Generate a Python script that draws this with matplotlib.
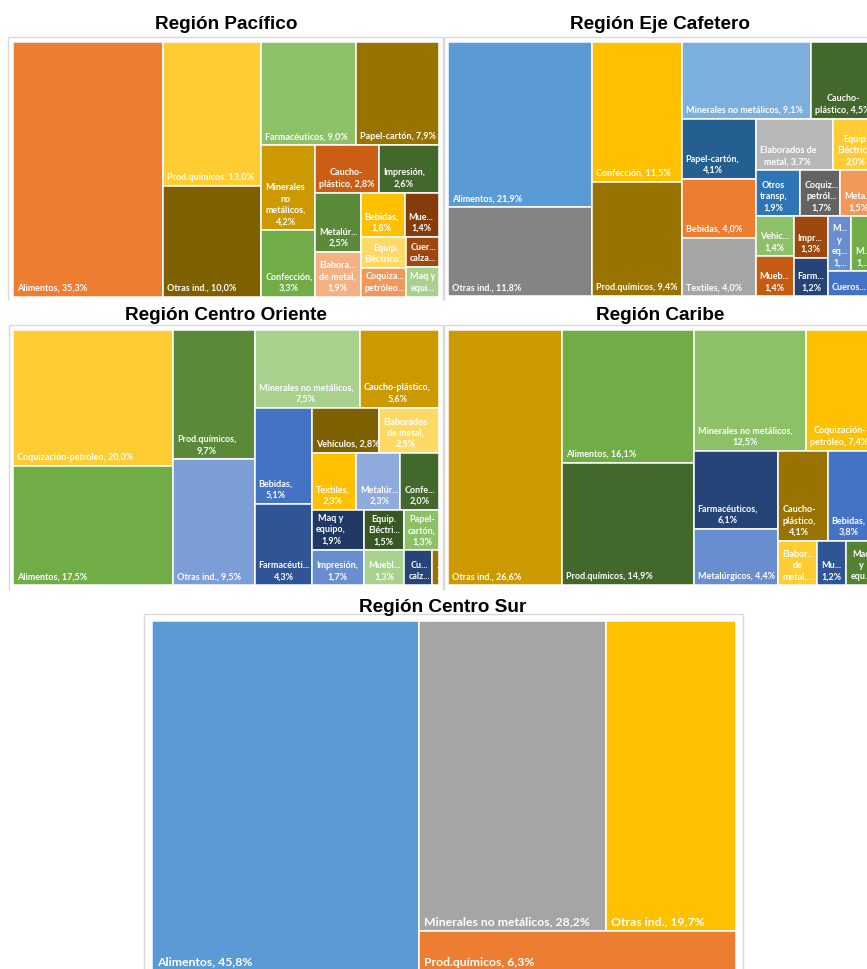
import matplotlib
matplotlib.use("Agg")
import matplotlib.pyplot as plt
from matplotlib.patches import Rectangle
from matplotlib import font_manager as fm

FIG_W, FIG_H, DPI = 867, 969, 100

# ------------------------------------------------------------------ data
# Región Pacífico
pac_categories = ["Alimentos", "Prod.químicos", "Otras ind.", "Farmacéuticos", "Papel-cartón",
                  "Minerales no metálicos", "Confección", "Caucho-plástico", "Impresión",
                  "Metalúrgicos", "Elaborados de metal", "Bebidas", "Muebles", "Equip. Eléctrico",
                  "Coquización-petróleo", "Cueros y calzado", "Maq y equipo"]
pac_values = [35.3, 13.0, 10.0, 9.0, 7.9, 4.2, 3.3, 2.8, 2.6, 2.5, 1.9, 1.8, 1.4, 1.3, 1.2, 0.9, 0.9]
pac_labels = ["Alimentos, {v}", "Prod.químicos, {v}", "Otras ind., {v}", "Farmacéuticos, {v}",
              "Papel-cartón, {v}", "Minerales\nno\nmetálicos,\n{v}", "Confección,\n{v}",
              "Caucho-\nplástico, {v}", "Impresión,\n{v}", "Metalúr...\n{v}",
              "Elabora...\nde metal,\n{v}", "Bebidas,\n{v}", "Mue...\n{v}", "Equip.\nEléctrico...",
              "Coquiza...\npetróleo...", "Cuer...\ncalza...", "Maq y\nequi..."]
pac_colors = ["#ED7D31", "#FFCD33", "#7F6000", "#8CC168", "#997300", "#CC9A00", "#70AD47",
              "#CB5E14", "#43682B", "#5A8A39", "#F4B183", "#FFC000", "#843C0C", "#FFD966",
              "#F1975A", "#9E480E", "#A9D18E"]

# Región Eje Cafetero
eje_categories = ["Alimentos", "Otras ind.", "Confección", "Prod.químicos", "Minerales no metálicos",
                  "Caucho-plástico", "Papel-cartón", "Bebidas", "Textiles", "Elaborados de metal",
                  "Equip. Eléctrico", "Otros transp.", "Coquización-petróleo", "Metalúrgicos",
                  "Vehículos", "Muebles", "Impresión", "Farmacéuticos", "Maq y equipo", "Madera",
                  "Cueros y calzado"]
eje_values = [21.9, 11.8, 11.5, 9.4, 9.1, 4.5, 4.1, 4.0, 4.0, 3.7, 2.0, 1.9, 1.7, 1.5, 1.4, 1.4,
              1.3, 1.2, 1.2, 1.2, 1.1]
eje_labels = ["Alimentos, {v}", "Otras ind., {v}", "Confección, {v}", "Prod.químicos, {v}",
              "Minerales no metálicos, {v}", "Caucho-\nplástico, {v}", "Papel-cartón,\n{v}",
              "Bebidas, {v}", "Textiles, {v}", "Elaborados de\nmetal, {v}", "Equip.\nEléctrico,\n{v}",
              "Otros\ntransp,\n{v}", "Coquiz...\npetról...\n{v}", "Meta...\n{v}", "Vehic...\n{v}",
              "Mueb...\n{v}", "Impr...\n{v}", "Farm...\n{v}", "M...\ny\neq...\n1,...", "M...\n1,...",
              "Cueros..."]
eje_colors = ["#5B9BD5", "#848484", "#FFC000", "#997300", "#7CAFDD", "#43682B", "#255E91",
              "#ED7D31", "#A5A5A5", "#B7B7B7", "#FFCD33", "#2E75B6", "#636363", "#F1975A",
              "#8CC168", "#C55A11", "#9E480E", "#264478", "#698ED0", "#70AD47", "#4472C4"]

# Región Centro Oriente
co_categories = ["Coquización-petróleo", "Alimentos", "Prod.químicos", "Otras ind.",
                 "Minerales no metálicos", "Caucho-plástico", "Bebidas", "Farmacéuticos",
                 "Vehículos", "Elaborados de metal", "Textiles", "Metalúrgicos", "Confección",
                 "Maq y equipo", "Impresión", "Equip. Eléctrico", "Papel-cartón", "Muebles",
                 "Cueros y calzado", "Otros transp."]
co_values = [20.0, 17.5, 9.7, 9.5, 7.5, 5.6, 5.1, 4.3, 2.8, 2.5, 2.3, 2.3, 2.0, 1.9, 1.7, 1.5,
             1.3, 1.3, 0.9, 0.2]
co_labels = ["Coquización-petróleo, {v}", "Alimentos, {v}", "Prod.químicos,\n{v}",
             "Otras ind., {v}", "Minerales no metálicos,\n{v}", "Caucho-plástico,\n{v}",
             "Bebidas,\n{v}", "Farmacéuti...\n{v}", "Vehículos, {v}", "Elaborados\nde metal,\n{v}",
             "Textiles,\n{v}", "Metalúr...\n{v}", "Confe...\n{v}", "Maq y\nequipo,\n{v}",
             "Impresión,\n{v}", "Equip.\nEléctri...\n{v}", "Papel-\ncartón,\n{v}", "Muebl...\n{v}",
             "Cu...\ncalz...", "...\n..."]
co_colors = ["#FFCD33", "#70AD47", "#5A8A39", "#7D9DD6", "#A9D18E", "#CC9A00", "#4472C4",
             "#2F5597", "#7F6000", "#FFD966", "#FFC000", "#8FAADC", "#43682B", "#203864",
             "#698ED0", "#385723", "#8CC168", "#A9D18E", "#264478", "#997300"]

# Región Caribe
car_categories = ["Otras ind.", "Alimentos", "Prod.químicos", "Minerales no metálicos",
                  "Coquización-petróleo", "Farmacéuticos", "Metalúrgicos", "Caucho-plástico",
                  "Bebidas", "Elaborados de metal", "Muebles", "Maq y equipo"]
car_values = [26.6, 16.1, 14.9, 12.5, 7.4, 6.1, 4.4, 4.1, 3.8, 1.6, 1.2, 1.1]
car_labels = ["Otras ind., {v}", "Alimentos, {v}", "Prod.químicos, {v}",
              "Minerales no metálicos,\n{v}", "Coquización-\npetróleo, {v}", "Farmacéuticos,\n{v}",
              "Metalúrgicos, {v}", "Caucho-\nplástico,\n{v}", "Bebidas,\n{v}",
              "Elabor...\nde\nmetal,...", "Mu...\n{v}", "Maq\ny\nequ..."]
car_colors = ["#CC9A00", "#70AD47", "#43682B", "#8CC168", "#FFC000", "#264478", "#698ED0",
              "#997300", "#4472C4", "#FFCD33", "#2F5597", "#548235"]

# Región Centro Sur
cs_categories = ["Alimentos", "Minerales no metálicos", "Otras ind.", "Prod.químicos"]
cs_values = [45.8, 28.2, 19.7, 6.3]
cs_labels = ["Alimentos, {v}", "Minerales no metálicos, {v}", "Otras ind., {v}", "Prod.químicos, {v}"]
cs_colors = ["#5B9BD5", "#A5A5A5", "#FFC000", "#ED7D31"]

# ------------------------------------------------------------------ layout / style
installed = {f.name for f in fm.fontManager.ttflist}
LABEL_FONT = [f for f in ["Lato", "Liberation Sans", "DejaVu Sans"] if f in installed]
TITLE_FONT = [f for f in ["Liberation Sans", "DejaVu Sans"] if f in installed]

# panel boxes in pixels (left, top, width, height), strip structure of the treemap
panels = [
    dict(title="Región Pacífico", box=(13.3, 42.3, 425.4, 254.4), tx=226, ty=29.0,
         values=pac_values, labels=pac_labels, colors=pac_colors, fs=6.5,
         strips=["V1", "V2", "H2", "V2", "H2", "V2", "H2", "V2", "H1", "H1"],
         frame=[(8, 37, 443, 37), (8, 37, 8, 300), (443, 37, 443, 300)]),
    dict(title="Región Eje Cafetero", box=(448.3, 42.3, 427.0, 254.0), tx=660, ty=29.0,
         values=eje_values, labels=eje_labels, colors=eje_colors, fs=6.5,
         strips=["V2", "V2", "H2", "V3", "H2", "H3", "V2", "V2", "H2", "H1"],
         frame=[(444, 37, 867, 37), (444, 37, 444, 300)]),
    dict(title="Región Centro Oriente", box=(13.3, 330.3, 425.4, 255.0), tx=226, ty=319.5,
         values=co_values, labels=co_labels, colors=co_colors, fs=6.5,
         strips=["V2", "V2", "H2", "V2", "H2", "H3", "V2", "H2", "V1", "V1", "V1"],
         frame=[(9, 325, 443, 325), (9, 325, 9, 590), (443, 325, 443, 590)]),
    dict(title="Región Caribe", box=(448.3, 330.3, 425.0, 255.0), tx=660, ty=319.5,
         values=car_values, labels=car_labels, colors=car_colors, fs=6.5,
         strips=["V1", "V2", "H2", "V2", "H2", "V1", "V1", "V1"],
         frame=[(444, 325, 867, 325), (444, 325, 444, 590)]),
    dict(title="Región Centro Sur", box=(151.7, 621.3, 584.6, 350.4), tx=443, ty=612,
         values=cs_values, labels=cs_labels, colors=cs_colors, fs=8.8,
         strips=["V1", "H2", "H1"],
         frame=[(144, 614, 743, 614), (144, 614, 144, 969), (743, 614, 743, 969)]),
]


def fmt(v):
    return f"{v:.1f}".replace(".", ",") + "%"


def strip_layout(values, strips, W, H):
    """Treemap strips: values (sorted) are split into consecutive groups;
    'V' groups form a column on the left, 'H' groups a row on top."""
    rects = []
    x, y, w, h = 0.0, 0.0, float(W), float(H)
    scale = W * H / sum(values)
    i = 0
    for spec in strips:
        orient, n = spec[0], int(spec[1:])
        group = values[i:i + n]
        area = sum(group) * scale
        if orient == "V":
            t = area / h
            yy = y
            for v in group:
                hh = v * scale / t
                rects.append((x, yy, t, hh))
                yy += hh
            x += t
            w -= t
        else:
            t = area / w
            xx = x
            for v in group:
                ww = v * scale / t
                rects.append((xx, y, ww, t))
                xx += ww
            y += t
            h -= t
        i += n
    return rects


fig = plt.figure(figsize=(FIG_W / DPI, FIG_H / DPI), dpi=DPI)
fig.patch.set_facecolor("white")

# background axes in pixel coordinates for titles and chart frames
bg = fig.add_axes([0, 0, 1, 1])
bg.set_xlim(0, FIG_W)
bg.set_ylim(FIG_H, 0)
bg.axis("off")

for p in panels:
    for (x1, y1, x2, y2) in p["frame"]:
        bg.plot([x1, x2], [y1, y2], color="#D9D9D9", lw=1.0, solid_capstyle="butt")
    bg.text(p["tx"], p["ty"], p["title"], ha="center", va="baseline", fontsize=13.7,
            fontweight="bold", family=TITLE_FONT, color="black")

    left, top, W, H = p["box"]
    ax = fig.add_axes([left / FIG_W, 1 - (top + H) / FIG_H, W / FIG_W, H / FIG_H])
    ax.set_xlim(0, W)
    ax.set_ylim(H, 0)
    ax.axis("off")

    rects = strip_layout(p["values"], p["strips"], W, H)
    padx = 4.0 if p["fs"] < 8 else 5.0
    pady = 4.0
    for (rx, ry, rw, rh), val, lab, col in zip(rects, p["values"], p["labels"], p["colors"]):
        patch = Rectangle((rx, ry), rw, rh, facecolor=col, edgecolor="white", lw=1.1)
        ax.add_patch(patch)
        t = ax.text(rx + padx, ry + rh - pady, lab.replace("{v}", fmt(val)), ha="left",
                    va="bottom", multialignment="center", color="white", fontsize=p["fs"],
                    fontweight="bold", family=LABEL_FONT, linespacing=1.32)
        t.set_clip_path(patch)

fig.savefig("out.png", dpi=DPI, facecolor="white")
